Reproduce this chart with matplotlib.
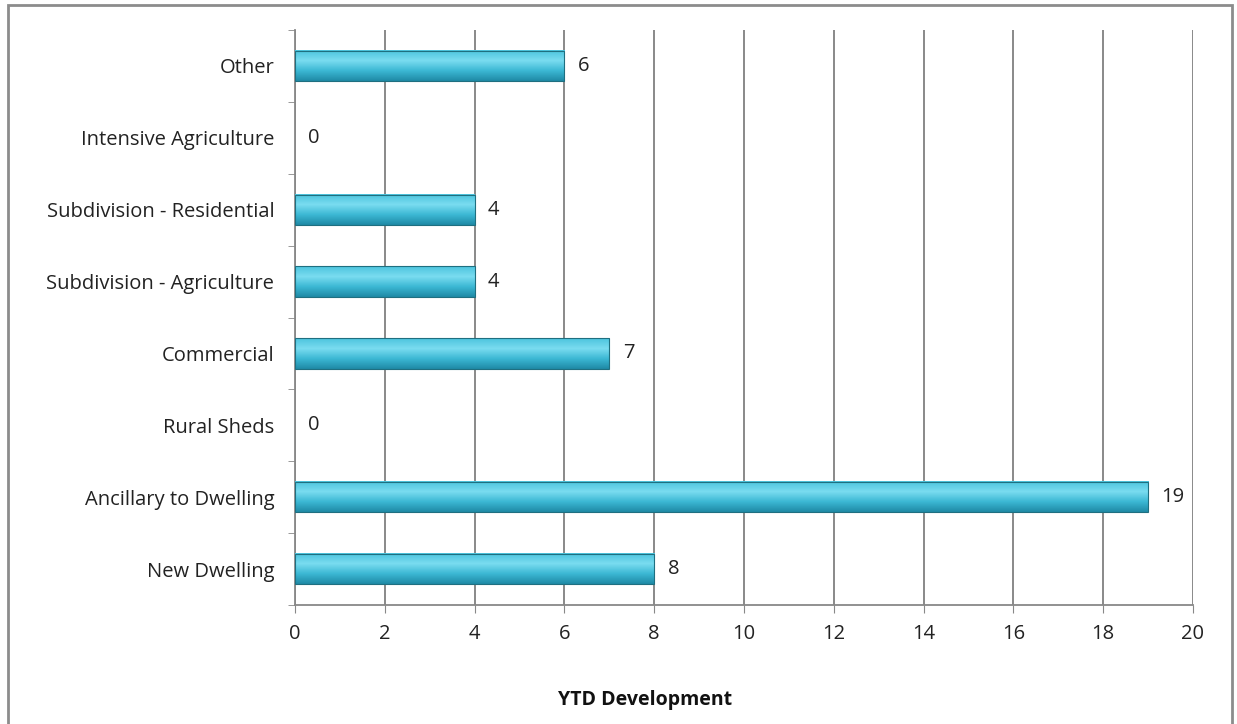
import numpy as np
import matplotlib.pyplot as plt
from matplotlib.patches import Rectangle
from matplotlib.colors import LinearSegmentedColormap

categories = ['New Dwelling', 'Ancillary to Dwelling', 'Rural Sheds', 'Commercial',
              'Subdivision - Agriculture', 'Subdivision - Residential',
              'Intensive Agriculture', 'Other']
values = [8, 19, 0, 7, 4, 4, 0, 6]
x_ticks = [0, 2, 4, 6, 8, 10, 12, 14, 16, 18, 20]

plt.rcParams['font.family'] = ['Open Sans', 'DejaVu Sans']

fig = plt.figure(figsize=(12.37, 7.24), dpi=100)
W, H = 1237, 724
ax = fig.add_axes([295 / W, 1 - 605 / H, (1193 - 295) / W, (605 - 30) / H])

# outer frame of the chart area
fig.patches.append(Rectangle((8 / W, -0.01), (1232 - 8) / W, 1 - 5 / H + 0.01,
                             transform=fig.transFigure, fill=False,
                             edgecolor='#8c8c8c', linewidth=2))

y = np.arange(len(categories))
bar_h = 0.42
bars = ax.barh(y, values, height=bar_h, color='#3ab6d2', linewidth=0, zorder=3)

# shaded look on each bar
cmap = LinearSegmentedColormap.from_list('bar', ['#1f8aa6', '#3cb8d4', '#7adcf0', '#4cc4de'])
grad = np.linspace(0, 1, 64).reshape(-1, 1)
for b in bars:
    w = b.get_width()
    if w <= 0:
        continue
    y0 = b.get_y()
    ax.imshow(grad, extent=(0, w, y0, y0 + bar_h), origin='lower', aspect='auto',
              cmap=cmap, zorder=3.5)
    ax.add_patch(Rectangle((0, y0), w, bar_h, fill=False, edgecolor='#1f6f80',
                           linewidth=0.8, zorder=4))

for yi, v in zip(y, values):
    ax.text(v + 0.3, yi, str(v), va='center', ha='left', fontsize=14.5, color='#222222')

ax.set_xlim(0, 20)
ax.set_ylim(-0.5, len(categories) - 0.5)
ax.set_xticks(x_ticks)
ax.set_xticklabels([str(t) for t in x_ticks], fontsize=14.5, color='#222222')
ax.set_yticks(y)
ax.set_yticklabels(categories, fontsize=14.5, color='#222222')
ax.set_yticks(np.arange(len(categories) + 1) - 0.5, minor=True)
ax.tick_params(axis='y', which='major', length=0, pad=15)
ax.tick_params(axis='y', which='minor', length=5, color='#888888')
ax.tick_params(axis='x', length=6, color='#888888', pad=8)
ax.xaxis.grid(True, color='#808080', linewidth=1.3, zorder=0)
ax.set_axisbelow(True)
for s in ['top', 'right']:
    ax.spines[s].set_visible(False)
for s in ['left', 'bottom']:
    ax.spines[s].set_color('#888888')
    ax.spines[s].set_linewidth(1.3)

fig.text(645 / W, 1 - 700 / H, 'YTD Development', ha='center', va='center',
         fontsize=14, fontweight='bold', color='#111111')

plt.savefig('out.png', dpi=100)
plt.close()
